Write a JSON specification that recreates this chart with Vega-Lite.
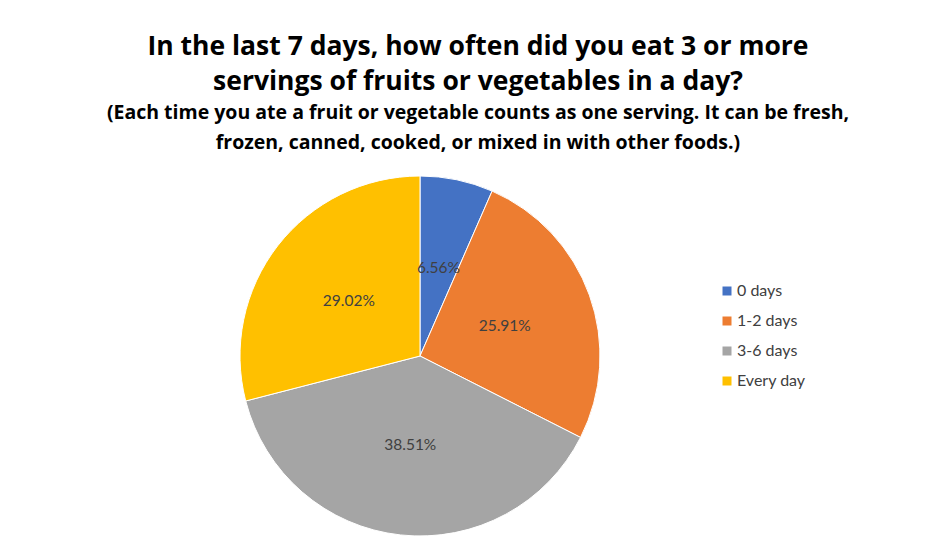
{
  "$schema": "https://vega.github.io/schema/vega-lite/v6.json",
  "width": 360,
  "height": 360,
  "autosize": {"type": "none"},
  "padding": {"left": 240, "top": 176, "right": 338, "bottom": 14},
  "background": "white",
  "title": {
    "text": ["In the last 7 days, how often did you eat 3 or more", "servings of fruits or vegetables in a day?"],
    "subtitle": ["(Each time you ate a fruit or vegetable counts as one serving. It can be fresh,", "frozen, canned, cooked, or mixed in with other foods.)"],
    "font": "Open Sans",
    "fontSize": 26.5,
    "fontWeight": "bold",
    "color": "#000000",
    "lineHeight": 35,
    "subtitleFont": "Open Sans",
    "subtitleFontSize": 19.5,
    "subtitleFontWeight": "bold",
    "subtitleColor": "#000000",
    "subtitleLineHeight": 30,
    "subtitlePadding": 8,
    "anchor": "middle",
    "dx": 58,
    "offset": 22
  },
  "data": {
    "values": [
      {"category": "0 days", "share": 0.0656},
      {"category": "1-2 days", "share": 0.2591},
      {"category": "3-6 days", "share": 0.3851},
      {"category": "Every day", "share": 0.2902}
    ]
  },
  "encoding": {
    "theta": {"field": "share", "type": "quantitative", "stack": true},
    "color": {
      "field": "category",
      "type": "nominal",
      "scale": {"domain": ["0 days", "1-2 days", "3-6 days", "Every day"], "range": ["#4472C4", "#ED7D31", "#A5A5A5", "#FFC000"]},
      "legend": {
        "title": null,
        "orient": "none",
        "legendX": 479,
        "legendY": 107,
        "symbolType": "square",
        "symbolSize": 81,
        "symbolStrokeWidth": 0,
        "labelFont": "Lato",
        "labelFontSize": 16,
        "labelColor": "#404040",
        "rowPadding": 14,
        "labelOffset": 2
      }
    },
    "order": {"field": "category", "type": "nominal"}
  },
  "layer": [
    {"mark": {"type": "arc", "outerRadius": 180, "stroke": "white", "strokeWidth": 1}},
    {
      "mark": {"type": "text", "radius": 90, "font": "Lato", "fontSize": 15.5, "fill": "#404040"},
      "encoding": {
        "text": {"field": "share", "type": "quantitative", "format": ".2%"},
        "color": {"value": "#404040"}
      }
    }
  ],
  "config": {"view": {"stroke": null}}
}
